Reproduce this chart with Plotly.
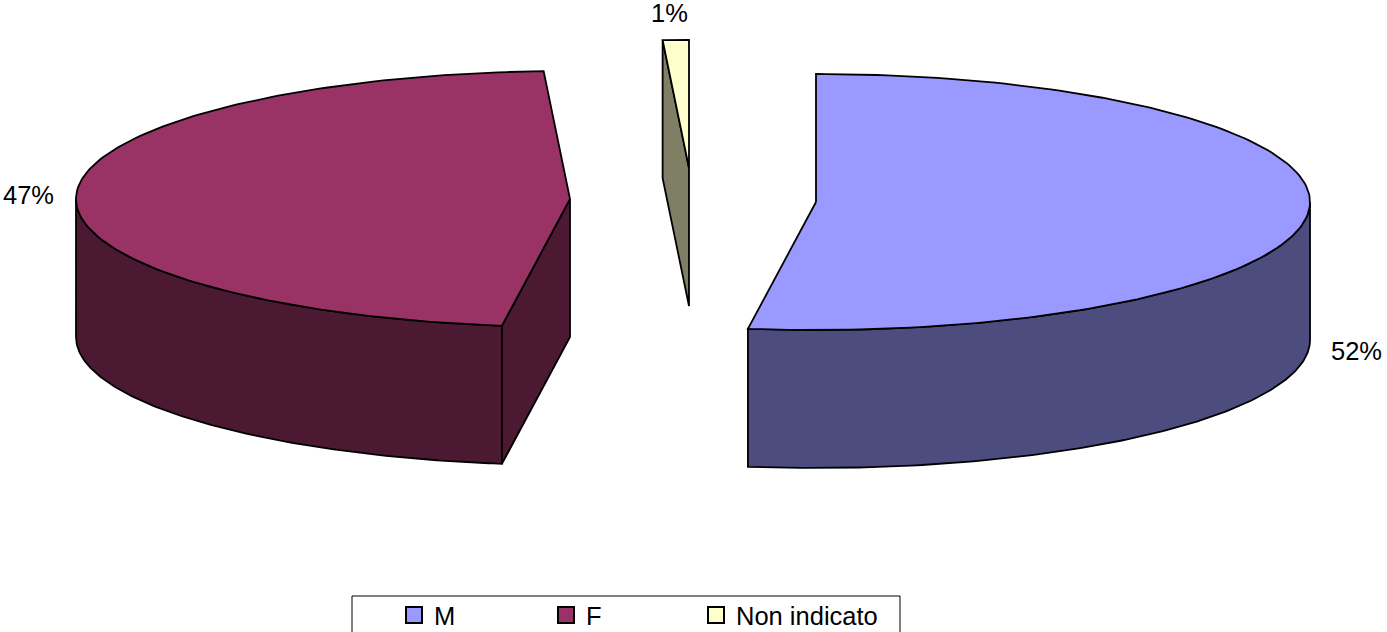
import numpy as np
import plotly.graph_objects as go

# chart data
labels = ['M', 'F', 'Non indicato']
values = [52.2, 46.95, 0.85]
top_colors = ['#9999FF', '#993366', '#FFFFCC']
side_colors = ['#4C4C7F', '#4C1933', '#7F7F66']

# exploded pie geometry, in page pixels
centers = [(816, 202), (570, 199), (689, 168)]
label_pos = [(1356, 351), (28, 195), (669, 13)]
legend_widths = [107, 105, 150]
RX, RY, DEPTH = 494, 128, 138
PLOT_H = 600
# the legend is cut by the bottom of the window, so the figure runs a bit past it
FIG_H = 640
FONT = dict(family='Liberation Sans, Arial, sans-serif', size=25.5, color='black')


def rim(cx, cy, a0, a1):
    # points on the ellipse, angles in degrees clockwise from 12 o'clock
    t = np.radians(np.linspace(a0, a1, 160))
    return cx + RX * np.sin(t), cy - RY * np.cos(t)


def add_poly(fig, x, y, color):
    fig.add_trace(go.Scatter(
        x=list(x) + [x[0]], y=list(y) + [y[0]], mode='lines', fill='toself',
        fillcolor=color, line=dict(color='black', width=1.8),
        hoverinfo='skip', showlegend=False,
    ))


def add_face(fig, cx, cy, angle, color):
    # flat cut face from the centre out to the rim
    px, py = rim(cx, cy, angle, angle)
    add_poly(fig, [cx, px[0], px[0], cx], [cy, py[0], py[0] + DEPTH, cy + DEPTH], color)


fig = go.Figure()

start = 0
for i, v in enumerate(values):
    end = start + v / sum(values) * 360
    cx, cy = centers[i]

    # outer wall, only the part facing the viewer
    a0, a1 = max(start, 90), min(end, 270)
    if a0 < a1:
        wx, wy = rim(cx, cy, a0, a1)
        add_poly(fig, np.r_[wx, wx[::-1]], np.r_[wy, wy[::-1] + DEPTH], side_colors[i])

    # cut faces
    if 180 < start < 360:
        add_face(fig, cx, cy, start, side_colors[i])
    if 0 < end < 180:
        add_face(fig, cx, cy, end, side_colors[i])

    # top of the slice
    tx, ty = rim(cx, cy, start, end)
    add_poly(fig, np.r_[cx, tx], np.r_[cy, ty], top_colors[i])

    fig.add_annotation(
        x=label_pos[i][0], y=label_pos[i][1], text=f'{round(v)}%',
        showarrow=False, font=FONT,
    )
    start = end

# legend entries only
for name, color, w in zip(labels, top_colors, legend_widths):
    fig.add_trace(go.Scatter(
        x=[None], y=[None], mode='markers', name=name, legendwidth=w,
        marker=dict(symbol='square', size=16, color=color, line=dict(color='black', width=2)),
    ))

# legend frame, its bottom edge falls off the page
fig.add_shape(
    type='rect', xref='x', yref='paper', x0=352, x1=900,
    y0=(PLOT_H - 596) / PLOT_H, y1=-60 / PLOT_H,
    line=dict(color='black', width=1), fillcolor='white', layer='below',
)

fig.update_layout(
    width=1387, height=FIG_H,
    margin=dict(l=0, r=0, t=0, b=FIG_H - PLOT_H),
    paper_bgcolor='white', plot_bgcolor='white',
    xaxis=dict(range=[0, 1387], visible=False, fixedrange=True),
    yaxis=dict(range=[PLOT_H, 0], visible=False, fixedrange=True),
    legend=dict(
        orientation='h', x=394 / 1387, xanchor='left',
        y=(PLOT_H - 592) / PLOT_H, yanchor='top',
        font=FONT, bgcolor='rgba(0,0,0,0)', traceorder='normal',
    ),
)

fig.write_html(
    "out.html",
    post_script="document.body.style.margin='0';document.documentElement.style.overflow='hidden';",
    config=dict(displayModeBar=False),
)
